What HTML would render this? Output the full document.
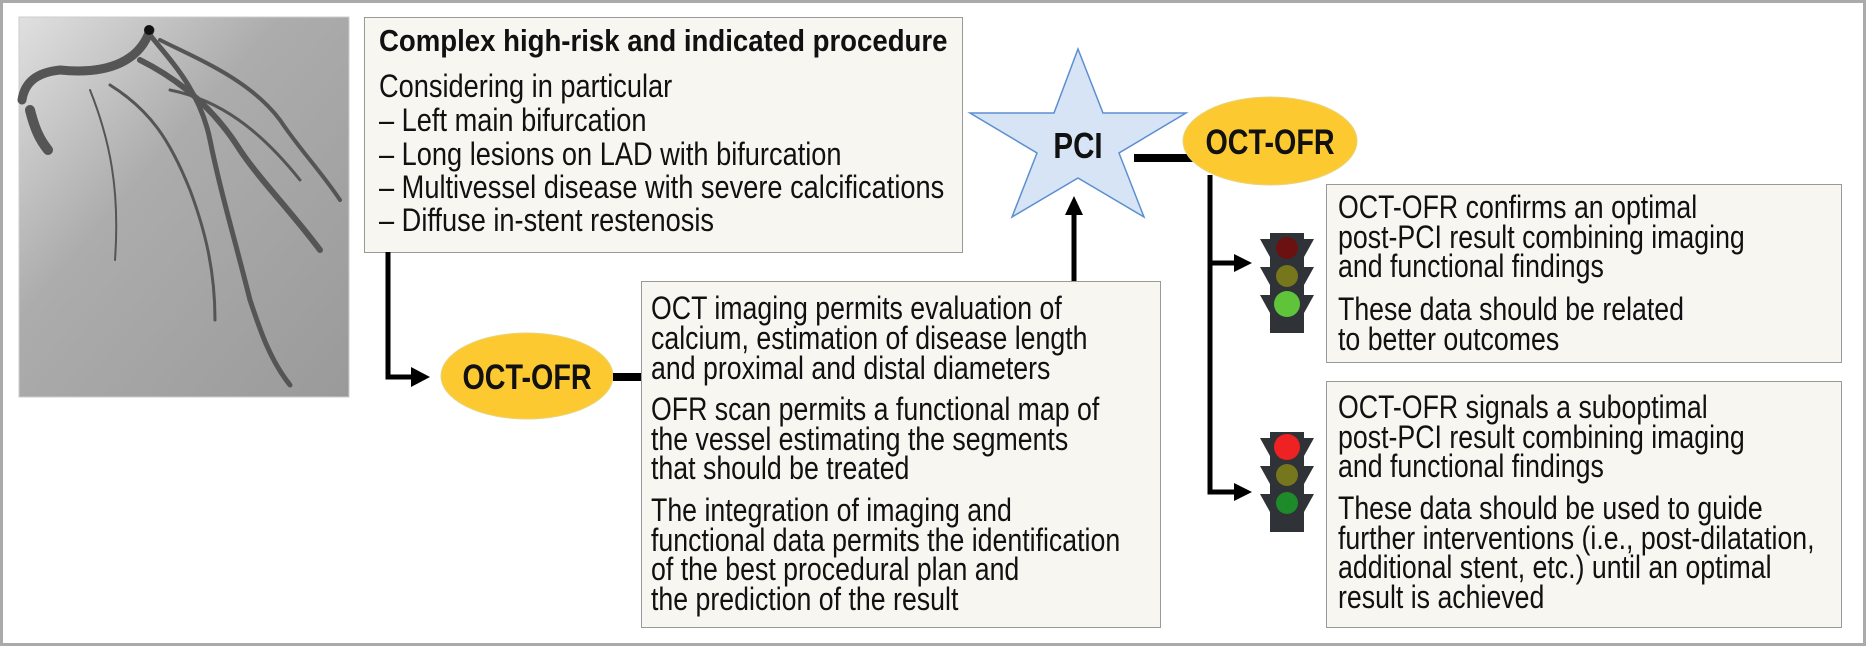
<!DOCTYPE html>
<html><head><meta charset="utf-8"><style>
html,body{margin:0;padding:0;background:#fff}
svg{display:block}
text{font-family:"Liberation Sans",sans-serif;fill:#111}
.t{font-size:32px}
.b{font-weight:bold}
</style></head><body>
<svg width="1866" height="646" viewBox="0 0 1866 646" xmlns="http://www.w3.org/2000/svg">
<defs>
<linearGradient id="ag" x1="0" y1="0" x2="1" y2="1">
<stop offset="0" stop-color="#e0e0e0"/><stop offset="0.4" stop-color="#acacac"/><stop offset="1" stop-color="#9a9a9a"/>
</linearGradient>
<g id="tl">
<path d="M0,8 h10 v-6 h34 v6 h10 l-10,18 v10 h10 l-10,18 v10 h10 l-10,18 v20 h-34 v-20 l-10,-18 h10 v-10 l-10,-18 h10 v-10 z" fill="#2f3237"/>
<rect x="22" y="82" width="10" height="16" fill="#2f3237"/>
</g>
</defs>
<rect x="1.5" y="1.5" width="1863" height="643" fill="#fff" stroke="#aaa" stroke-width="3"/>
<!-- angiogram -->
<rect x="19" y="17" width="330" height="380" fill="url(#ag)" stroke="#ccc"/>
<g fill="none" stroke="#555" stroke-linecap="round">
<path d="M150,30 C140,60 110,75 60,70 C40,72 25,80 22,100" stroke-width="9"/>
<path d="M150,35 C170,60 200,90 210,140 C220,190 235,240 250,300 C260,330 270,360 290,385" stroke-width="5"/>
<path d="M140,60 C180,80 215,110 240,150 C260,180 290,210 320,250" stroke-width="6"/>
<path d="M160,40 C200,60 250,80 280,120 C300,150 320,170 340,200" stroke-width="4"/>
<path d="M110,85 C150,110 170,140 190,190 C205,230 215,270 215,320" stroke-width="3"/>
<path d="M90,90 C110,140 120,190 115,260" stroke-width="2"/>
<path d="M170,90 C220,100 260,130 300,180" stroke-width="3"/>
<path d="M30,110 C35,130 40,140 48,150" stroke-width="10"/>
</g>
<circle cx="149" cy="30" r="5" fill="#111"/>
<!-- top box -->
<rect x="364.5" y="17.5" width="598" height="235" fill="#f7f6f0" stroke="#999"/>
<text transform="translate(379,51) scale(0.89,1)" class="b" font-size="31">Complex high-risk and indicated procedure</text>
<g transform="translate(379,0) scale(0.85,1)">
<text class="t" x="0" y="97">Considering in particular</text>
<text class="t" x="0" y="131">– Left main bifurcation</text>
<text class="t" x="0" y="165">– Long lesions on LAD with bifurcation</text>
<text class="t" x="0" y="198">– Multivessel disease with severe calcifications</text>
<text class="t" x="0" y="231">– Diffuse in-stent restenosis</text>
</g>
<!-- connector down-right -->
<path d="M388,252 V377 H414" fill="none" stroke="#000" stroke-width="5"/>
<polygon points="411,367 430,377 411,387" fill="#000"/>
<!-- ellipse 1 -->
<ellipse cx="527" cy="376" rx="86" ry="43" fill="#fcca30" stroke="#e8d27a"/>
<text transform="translate(527,389) scale(0.82,1)" text-anchor="middle" class="b" font-size="35">OCT-OFR</text>
<path d="M613,377 H641" stroke="#000" stroke-width="8"/>
<!-- box 2 -->
<rect x="641.5" y="281.5" width="519" height="346" fill="#f7f6f0" stroke="#999"/>
<g transform="translate(651,0) scale(0.835,1)">
<text class="t" x="0" y="319">OCT imaging permits evaluation of</text>
<text class="t" x="0" y="349">calcium, estimation of disease length</text>
<text class="t" x="0" y="379">and proximal and distal diameters</text>
<text class="t" x="0" y="420">OFR scan permits a functional map of</text>
<text class="t" x="0" y="450">the vessel estimating the segments</text>
<text class="t" x="0" y="479">that should be treated</text>
<text class="t" x="0" y="521">The integration of imaging and</text>
<text class="t" x="0" y="551">functional data permits the identification</text>
<text class="t" x="0" y="580">of the best procedural plan and</text>
<text class="t" x="0" y="610">the prediction of the result</text>
</g>
<!-- arrow up -->
<path d="M1074,281 V212" stroke="#000" stroke-width="5"/>
<polygon points="1065,215 1074,196 1083,215" fill="#000"/>
<!-- star -->
<polygon points="1078,49 1103,113 1186,113 1119,153 1144,217 1078,178 1012,217 1037,153 970,113 1054,113" fill="#d6e4f5" stroke="#5b8fd0" stroke-width="1.5"/>
<text transform="translate(1078,158) scale(0.82,1)" text-anchor="middle" class="b" font-size="36">PCI</text>
<path d="M1134,158 H1195" stroke="#000" stroke-width="8"/>
<!-- ellipse 2 -->
<ellipse cx="1270" cy="141" rx="87" ry="44" fill="#fcca30" stroke="#e8d27a"/>
<text transform="translate(1270,154) scale(0.82,1)" text-anchor="middle" class="b" font-size="35">OCT-OFR</text>
<!-- branch -->
<path d="M1210,175 V492 H1236 M1210,263 H1236" fill="none" stroke="#000" stroke-width="5"/>
<polygon points="1234,254 1252,263 1234,272" fill="#000"/>
<polygon points="1234,483 1252,492 1234,501" fill="#000"/>
<!-- traffic lights -->
<g transform="translate(1260,231)">
<use href="#tl"/>
<circle cx="27" cy="17" r="11" fill="#6b1111"/>
<circle cx="27" cy="45" r="11" fill="#76761c"/>
<circle cx="27" cy="73" r="13" fill="#5fc43a"/>
</g>
<g transform="translate(1260,430)">
<use href="#tl"/>
<circle cx="27" cy="17" r="13" fill="#ee2222"/>
<circle cx="27" cy="45" r="11" fill="#76761c"/>
<circle cx="27" cy="73" r="11" fill="#1f8a2a"/>
</g>
<!-- box 3 -->
<rect x="1326.5" y="184.5" width="515" height="178" fill="#f7f6f0" stroke="#999"/>
<g transform="translate(1338,0) scale(0.835,1)">
<text class="t" x="0" y="218">OCT-OFR confirms an optimal</text>
<text class="t" x="0" y="248">post-PCI result combining imaging</text>
<text class="t" x="0" y="277">and functional findings</text>
<text class="t" x="0" y="320">These data should be related</text>
<text class="t" x="0" y="350">to better outcomes</text>
</g>
<!-- box 4 -->
<rect x="1326.5" y="381.5" width="515" height="246" fill="#f7f6f0" stroke="#999"/>
<g transform="translate(1338,0) scale(0.835,1)">
<text class="t" x="0" y="418">OCT-OFR signals a suboptimal</text>
<text class="t" x="0" y="448">post-PCI result combining imaging</text>
<text class="t" x="0" y="477">and functional findings</text>
<text class="t" x="0" y="519">These data should be used to guide</text>
<text class="t" x="0" y="549">further interventions (i.e., post-dilatation,</text>
<text class="t" x="0" y="578">additional stent, etc.) until an optimal</text>
<text class="t" x="0" y="608">result is achieved</text>
</g>
</svg>
</body></html>
